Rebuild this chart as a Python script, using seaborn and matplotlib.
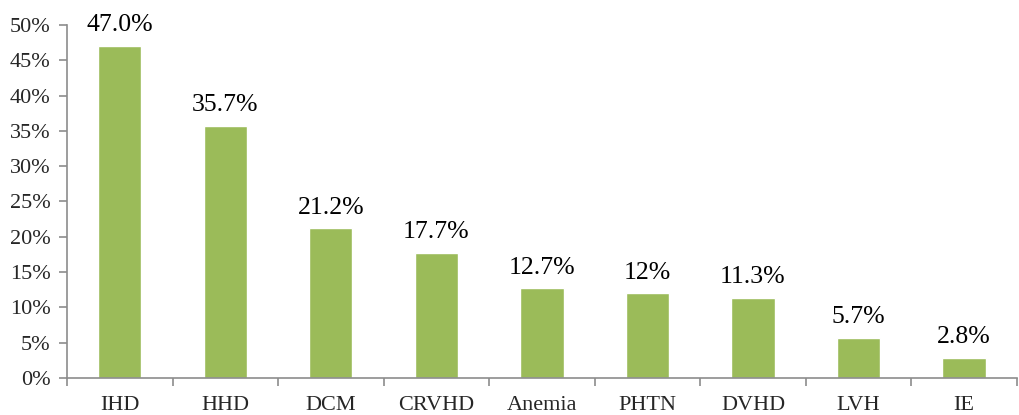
import numpy as np
import pandas as pd
import matplotlib
matplotlib.use('Agg')
import matplotlib.pyplot as plt
import seaborn as sns
from matplotlib.ticker import FixedLocator, PercentFormatter

sns.set_theme(style='white')
plt.rcParams['font.family'] = ['Liberation Serif', 'DejaVu Serif']

categories = ['IHD', 'HHD', 'DCM', 'CRVHD', 'Anemia', 'PHTN', 'DVHD', 'LVH', 'IE']
values = [47.0, 35.7, 21.2, 17.7, 12.7, 12.0, 11.3, 5.7, 2.8]
labels = ['47.0%', '35.7%', '21.2%', '17.7%', '12.7%', '12%', '11.3%', '5.7%', '2.8%']

df = pd.DataFrame({'cat': categories, 'val': values})

fig = plt.figure(figsize=(10.19, 4.15), dpi=100)
ax = fig.add_axes([0.0658, 0.0892, 0.932, 0.8506])

sns.barplot(data=df, x='cat', y='val', color='#9BBB59', saturation=1,
            width=0.41, ax=ax)

# value labels above bars
for i, (v, t) in enumerate(zip(values, labels)):
    ax.annotate(t, (i, v), xytext=(0, 7), textcoords='offset points',
                ha='center', va='bottom', fontsize=18.5, color='black')

ax.set_ylim(0, 50)
ax.set_xlim(-0.5, len(categories) - 0.5)
ax.set_yticks(np.arange(0, 51, 5))
ax.yaxis.set_major_formatter(PercentFormatter(decimals=0))
ax.xaxis.set_minor_locator(FixedLocator(np.arange(-0.5, len(categories), 1)))

for s in ['top', 'right']:
    ax.spines[s].set_visible(False)
for s in ['left', 'bottom']:
    ax.spines[s].set_color('#8c8c8c')
    ax.spines[s].set_linewidth(1.2)

ax.tick_params(axis='y', which='major', direction='out', length=5.5, width=1.2,
               color='#8c8c8c', pad=6.5, labelsize=16, left=True)
ax.tick_params(axis='x', which='major', length=0, pad=13, labelsize=16)
ax.tick_params(axis='x', which='minor', direction='out', length=5.5, width=1.2,
               color='#8c8c8c', bottom=True)
ax.set_xlabel('')
ax.set_ylabel('')
ax.grid(False)

fig.savefig('out.png', dpi=100)
